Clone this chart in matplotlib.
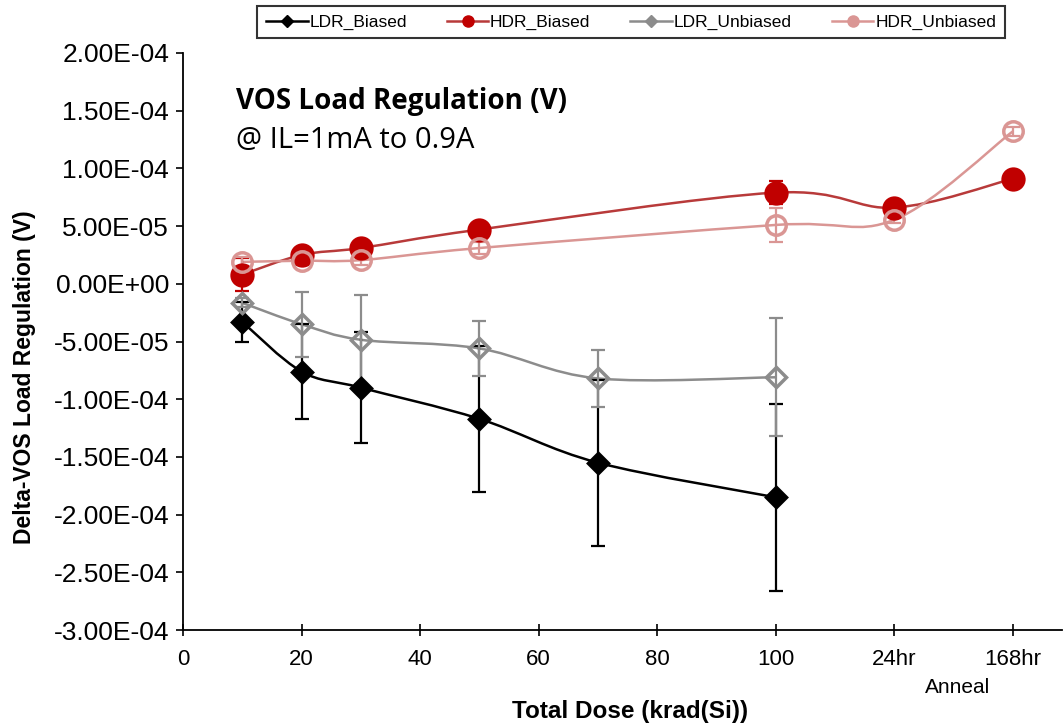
import matplotlib.pyplot as plt
import numpy as np
from matplotlib.path import Path
from matplotlib.patches import PathPatch
from matplotlib.lines import Line2D

# x positions: 120 -> "24hr" anneal, 140 -> "168hr" anneal
ldr_x = [10, 20, 30, 50, 70, 100]
hdr_x = [10, 20, 30, 50, 100, 120, 140]

ldr_biased = [-3.3e-5, -7.6e-5, -9.0e-5, -1.17e-4, -1.55e-4, -1.85e-4]
ldr_biased_err = [1.7e-5, 4.1e-5, 4.8e-5, 6.3e-5, 7.2e-5, 8.1e-5]
ldr_unbiased = [-1.65e-5, -3.5e-5, -4.85e-5, -5.6e-5, -8.2e-5, -8.1e-5]
ldr_unbiased_err = [0.4e-5, 2.8e-5, 3.85e-5, 2.35e-5, 2.45e-5, 5.1e-5]
hdr_biased = [0.8e-5, 2.5e-5, 3.1e-5, 4.7e-5, 7.9e-5, 6.6e-5, 9.1e-5]
hdr_biased_err = [1.4e-5, 0.3e-5, 0.3e-5, 0.3e-5, 1.0e-5, 0.3e-5, 0.3e-5]
hdr_unbiased = [1.9e-5, 2.0e-5, 2.05e-5, 3.1e-5, 5.1e-5, 5.55e-5, 1.32e-4]
hdr_unbiased_err = [0.4e-5, 0.4e-5, 0.4e-5, 0.5e-5, 1.5e-5, 0.3e-5, 0.4e-5]

x_ticks = [0, 20, 40, 60, 80, 100, 120, 140]
x_tick_labels = ["0", "20", "40", "60", "80", "100", "24hr", "168hr"]
y_ticks = [-3e-4, -2.5e-4, -2e-4, -1.5e-4, -1e-4, -0.5e-4, 0.0, 0.5e-4, 1e-4, 1.5e-4, 2e-4]

sans = ["Liberation Sans", "DejaVu Sans"]


def smooth_path(xs, ys):
    """Excel-like smoothed line as cubic Bezier segments."""
    pts = np.column_stack([xs, ys]).astype(float)
    verts = [pts[0]]
    codes = [Path.MOVETO]
    n = len(pts)
    for i in range(n - 1):
        p0 = pts[max(i - 1, 0)]
        p1 = pts[i]
        p2 = pts[i + 1]
        p3 = pts[min(i + 2, n - 1)]
        c1 = p1 + (p2 - p0) / 6.0
        c2 = p2 - (p3 - p1) / 6.0
        verts += [c1, c2, p2]
        codes += [Path.CURVE4] * 3
    return Path(verts, codes)


figure = plt.figure(figsize=(10.64, 7.28), dpi=100)
axis = figure.add_axes([0.172, 0.1346, 0.826, 0.7926])

series = [
    (ldr_x, ldr_biased, ldr_biased_err, "black", "D", "black", "LDR_Biased", 10),
    (hdr_x, hdr_biased, hdr_biased_err, "#C00000", "o", "#C00000", "HDR_Biased", 15),
    (ldr_x, ldr_unbiased, ldr_unbiased_err, "#8C8C8C", "D", "none", "LDR_Unbiased", 10),
    (hdr_x, hdr_unbiased, hdr_unbiased_err, "#DA9694", "o", "none", "HDR_Unbiased", 14),
]

handles = []
for xs, ys, errs, color, marker, face, label, ms in series:
    line_color = "#B83A3A" if label == "HDR_Biased" else color
    axis.add_patch(
        PathPatch(smooth_path(xs, ys), facecolor="none",
                  edgecolor=line_color, linewidth=1.8, zorder=2)
    )
    axis.errorbar(xs, ys, yerr=errs, fmt="none", ecolor=color,
                  elinewidth=1.6, capsize=5, capthick=1.6, zorder=3)
    axis.plot(xs, ys, linestyle="none", marker=marker, markersize=ms,
              markerfacecolor=face, markeredgecolor=color,
              markeredgewidth=2.5, zorder=4)
    handles.append(
        Line2D([0], [0], color=line_color, linewidth=1.8, marker=marker,
               markersize=8 if marker == "o" else 6,
               markerfacecolor=color, markeredgecolor=color,
               label=label)
    )

axis.set_xlim(0, 148.3)
axis.set_ylim(-3e-4, 2e-4)
axis.set_xticks(x_ticks)
axis.set_xticklabels(x_tick_labels, family=sans, fontsize=16)
axis.set_yticks(y_ticks)
axis.set_yticklabels([f"{v:.2E}" for v in y_ticks], family=sans, fontsize=19)
axis.tick_params(axis="x", direction="inout", length=8, width=1.2, pad=10)
axis.tick_params(axis="y", direction="out", length=5, width=1.2, pad=5)

for side in ["top", "right"]:
    axis.spines[side].set_visible(False)
for side in ["left", "bottom"]:
    axis.spines[side].set_linewidth(1.3)

axis.set_xlabel("Total Dose (krad(Si))", family=sans,
                fontsize=17.5, fontweight="bold")
axis.xaxis.set_label_coords(0.5085, -0.121)
axis.set_ylabel("Delta-VOS Load Regulation (V)", family=sans,
                fontsize=16.5, fontweight="bold", va="center")
axis.yaxis.set_label_coords(-0.18, 0.438)

figure.text(0.222, 0.86, "VOS Load Regulation (V)", family="Open Sans",
            fontsize=20, fontweight="bold", va="center")
figure.text(0.222, 0.807, "@ IL=1mA to 0.9A", family="Open Sans",
            fontsize=21, va="center")
figure.text(0.9, 0.055, "Anneal", family=sans, fontsize=15,
            ha="center", va="center")

legend = figure.legend(handles=handles, loc="upper center",
                       bbox_to_anchor=(0.593, 0.992), ncol=4,
                       prop={"family": sans, "size": 12.5},
                       frameon=True, fancybox=False, edgecolor="black",
                       handlelength=2.4, columnspacing=2.3,
                       borderpad=0.5, handletextpad=0.1,
                       borderaxespad=0)
legend.get_frame().set_linewidth(1.5)

figure.savefig("out.png", dpi=100)
plt.close(figure)
